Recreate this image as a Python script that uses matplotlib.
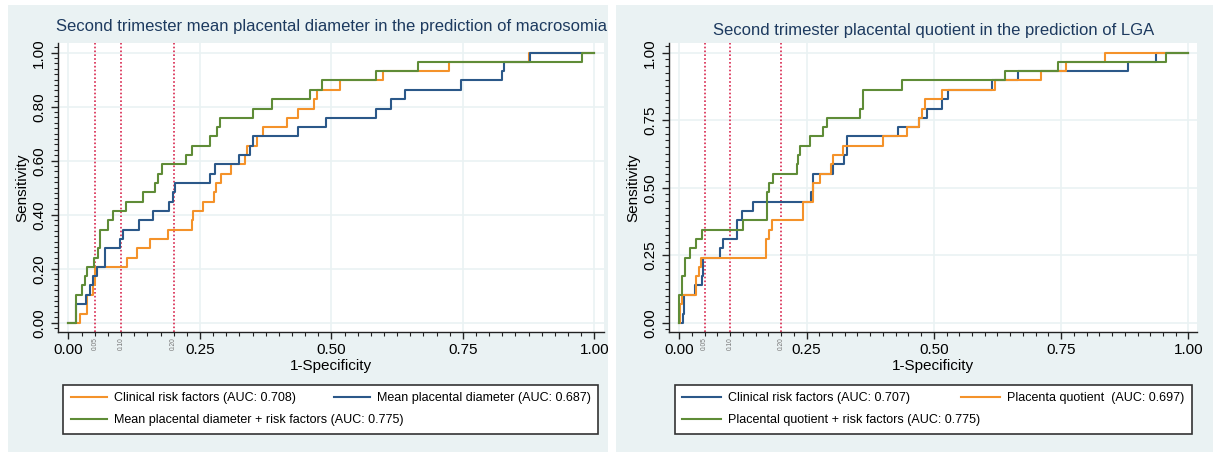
# Curvas ROC del segundo trimestre (diámetro placentario y cociente placentario)

import matplotlib.pyplot as plt
import matplotlib.patches as mpatches
from matplotlib.ticker import MultipleLocator

plt.rcParams['font.family'] = ['Liberation Sans', 'DejaVu Sans']

W, H = 1216, 453

# ---- Panel izquierdo: macrosomía ----
izq_fpr_clinico = [0, 0.021, 0.035, 0.047, 0.050, 0.112, 0.130, 0.155, 0.190, 0.234, 0.237, 0.255,
                   0.277, 0.280, 0.291, 0.310, 0.336, 0.339, 0.358, 0.369, 0.416, 0.437, 0.467,
                   0.472, 0.517, 0.598, 0.724, 0.876, 1.0]
izq_sens_clinico = [0, 0.034, 0.103, 0.138, 0.207, 0.241, 0.276, 0.310, 0.345, 0.379, 0.414, 0.448,
                    0.483, 0.517, 0.552, 0.586, 0.621, 0.655, 0.690, 0.724, 0.759, 0.793, 0.828,
                    0.862, 0.897, 0.931, 0.966, 1.0, 1.0]

izq_fpr_diam = [0, 0.014, 0.033, 0.041, 0.046, 0.054, 0.069, 0.098, 0.104, 0.134, 0.161, 0.191,
                0.198, 0.203, 0.269, 0.278, 0.325, 0.346, 0.351, 0.436, 0.490, 0.584, 0.614,
                0.640, 0.746, 0.824, 0.828, 0.877, 1.0]
izq_sens_diam = [0, 0.069, 0.103, 0.138, 0.172, 0.207, 0.276, 0.310, 0.345, 0.379, 0.414, 0.448,
                 0.483, 0.517, 0.552, 0.586, 0.621, 0.655, 0.690, 0.724, 0.759, 0.793, 0.828,
                 0.862, 0.897, 0.931, 0.966, 1.0, 1.0]

izq_fpr_comb = [0, 0.015, 0.025, 0.031, 0.036, 0.049, 0.057, 0.060, 0.076, 0.085, 0.109, 0.141,
                0.164, 0.171, 0.177, 0.223, 0.234, 0.269, 0.282, 0.288, 0.351, 0.387, 0.459,
                0.483, 0.584, 0.665, 0.976, 1.0]
izq_sens_comb = [0, 0.103, 0.138, 0.172, 0.207, 0.241, 0.276, 0.345, 0.379, 0.414, 0.448, 0.483,
                 0.517, 0.552, 0.586, 0.621, 0.655, 0.690, 0.724, 0.759, 0.793, 0.828, 0.862,
                 0.897, 0.931, 0.966, 1.0, 1.0]

# ---- Panel derecho: LGA ----
der_fpr_clinico = [0, 0.007, 0.009, 0.031, 0.044, 0.047, 0.081, 0.087, 0.114, 0.123, 0.144, 0.259,
                   0.262, 0.303, 0.324, 0.329, 0.430, 0.470, 0.486, 0.517, 0.527, 0.614, 0.666,
                   0.882, 0.936, 1.0]
der_sens_clinico = [0, 0.034, 0.103, 0.138, 0.172, 0.241, 0.276, 0.310, 0.379, 0.414, 0.448, 0.483,
                    0.552, 0.586, 0.621, 0.690, 0.724, 0.759, 0.793, 0.828, 0.862, 0.897, 0.931,
                    0.966, 1.0, 1.0]

der_fpr_cociente = [0, 0.002, 0.005, 0.033, 0.039, 0.043, 0.170, 0.177, 0.183, 0.244, 0.263, 0.276,
                    0.299, 0.303, 0.321, 0.401, 0.448, 0.470, 0.476, 0.483, 0.517, 0.620, 0.710,
                    0.759, 0.836, 1.0]
der_sens_cociente = [0, 0.069, 0.103, 0.172, 0.207, 0.241, 0.310, 0.345, 0.379, 0.448, 0.517, 0.552,
                     0.586, 0.621, 0.655, 0.690, 0.724, 0.759, 0.793, 0.828, 0.862, 0.897, 0.931,
                     0.966, 1.0, 1.0]

der_fpr_comb = [0, 0.0003, 0.005, 0.011, 0.021, 0.033, 0.044, 0.126, 0.173, 0.176, 0.185, 0.231,
                0.234, 0.237, 0.256, 0.282, 0.290, 0.356, 0.360, 0.437, 0.640, 0.744, 0.956, 1.0]
der_sens_comb = [0, 0.103, 0.172, 0.241, 0.276, 0.310, 0.345, 0.379, 0.483, 0.517, 0.552, 0.586,
                 0.621, 0.655, 0.690, 0.724, 0.759, 0.793, 0.862, 0.897, 0.931, 0.966, 1.0, 1.0]

cortes = [0.05, 0.10, 0.20]

NARANJA = '#f4922a'
AZUL = '#2b5889'
VERDE = '#5f8c37'
FONDO = '#eaf2f3'
ROJO = '#d8284f'


def caja(x0, y0, x1, y1):
    # coordenadas en píxeles (origen arriba a la izquierda) -> fracción de figura
    return [x0 / W, 1 - y1 / H, (x1 - x0) / W, (y1 - y0) / H]


fig = plt.figure(figsize=(W / 100, H / 100), dpi=100)
fig.patch.set_facecolor('white')

# fondos de cada panel
for x0, x1 in [(8, 608), (616, 1213)]:
    fig.patches.append(mpatches.Rectangle((x0 / W, 1 - 452 / H), (x1 - x0) / W, (452 - 5) / H,
                                          transform=fig.transFigure, facecolor=FONDO,
                                          edgecolor='none', zorder=-5))


def preparar_ejes(ax, yticks, ymenor, xmax):
    ax.set_zorder(2)
    ax.set_facecolor('white')
    ax.set_xlim(-0.0192, xmax)
    ax.set_ylim(-0.0356, 1.037)
    ax.set_xticks([0, 0.25, 0.5, 0.75, 1.0])
    ax.set_xticklabels(['0.00', '0.25', '0.50', '0.75', '1.00'])
    ax.xaxis.set_minor_locator(MultipleLocator(0.025))
    ax.set_yticks(yticks)
    ax.set_yticklabels(['%.2f' % v for v in yticks])
    ax.yaxis.set_minor_locator(MultipleLocator(ymenor))
    ax.grid(True, which='major', color=FONDO, linewidth=1.2, zorder=0)
    for lado in ['top', 'right']:
        ax.spines[lado].set_visible(False)
    for lado in ['left', 'bottom']:
        ax.spines[lado].set_color('#222222')
        ax.spines[lado].set_linewidth(1.0)
    ax.tick_params(axis='both', which='major', length=5, width=1, color='#222222',
                   labelsize=11, pad=3)
    ax.tick_params(axis='both', which='minor', length=3, width=0.8, color='#222222')
    ax.tick_params(axis='y', labelrotation=90, pad=4)
    plt.setp(ax.get_yticklabels(), va='center')
    ax.set_xlabel('1-Specificity', fontsize=11, labelpad=1)
    ax.set_ylabel('Sensitivity', fontsize=11, labelpad=2)
    for c in cortes:
        ax.axvline(c, color=ROJO, linestyle=(0, (1, 1.3)), linewidth=1.2, zorder=2)
        ax.text(c, -0.055, '%.2f' % c, rotation=90, fontsize=4.8, color='#777777',
                ha='center', va='top', transform=ax.transData)
    ax.set_axisbelow(True)


# ---- Panel izquierdo ----
ax1 = fig.add_axes(caja(58.4, 42.7, 604, 332.3))
preparar_ejes(ax1, [0, 0.2, 0.4, 0.6, 0.8, 1.0], 0.02, 1.0185)
l1, = ax1.plot(izq_fpr_clinico, izq_sens_clinico, drawstyle='steps-post', color=NARANJA, lw=1.5,
               label='Clinical risk factors (AUC: 0.708)', zorder=3)
l2, = ax1.plot(izq_fpr_diam, izq_sens_diam, drawstyle='steps-post', color=AZUL, lw=1.5,
               label='Mean placental diameter (AUC: 0.687)', zorder=3)
l3, = ax1.plot(izq_fpr_comb, izq_sens_comb, drawstyle='steps-post', color=VERDE, lw=1.5,
               label='Mean placental diameter + risk factors (AUC: 0.775)', zorder=3)
fig.text(331 / W, 1 - 27 / H, 'Second trimester mean placental diameter in the prediction of macrosomia',
         ha='center', va='center', fontsize=12, color='#1d3a5f')
ley1 = fig.legend([l1, l3, l2], [l1.get_label(), l3.get_label(), l2.get_label()],
                  bbox_to_anchor=caja(63.4, 383, 598, 435), loc='center', mode='expand', ncol=2,
                  fontsize=9, frameon=True, fancybox=False, edgecolor='#333333', facecolor='white',
                  framealpha=1, handlelength=2.9, handletextpad=0.55, labelspacing=0.8,
                  borderpad=0.6, borderaxespad=0)
ley1.get_frame().set_linewidth(1.2)

# ---- Panel derecho ----
ax2 = fig.add_axes(caja(669.4, 42.7, 1197.4, 332.3))
preparar_ejes(ax2, [0, 0.25, 0.5, 0.75, 1.0], 0.025, 1.0175)
r1, = ax2.plot(der_fpr_clinico, der_sens_clinico, drawstyle='steps-post', color=AZUL, lw=1.5,
               label='Clinical risk factors (AUC: 0.707)', zorder=3)
r2, = ax2.plot(der_fpr_cociente, der_sens_cociente, drawstyle='steps-post', color=NARANJA, lw=1.5,
               label='Placenta quotient  (AUC: 0.697)', zorder=3)
r3, = ax2.plot(der_fpr_comb, der_sens_comb, drawstyle='steps-post', color=VERDE, lw=1.5,
               label='Placental quotient + risk factors (AUC: 0.775)', zorder=3)
fig.text(933.4 / W, 1 - 30 / H, 'Second trimester placental quotient in the prediction of LGA',
         ha='center', va='center', fontsize=12, color='#1d3a5f')
ley2 = fig.legend([r1, r3, r2], [r1.get_label(), r3.get_label(), r2.get_label()],
                  bbox_to_anchor=caja(674.5, 383, 1191.6, 435), loc='center', mode='expand', ncol=2,
                  fontsize=9, frameon=True, fancybox=False, edgecolor='#333333', facecolor='white',
                  framealpha=1, handlelength=3.1, handletextpad=0.55, labelspacing=0.8,
                  borderpad=0.6, borderaxespad=0)
ley2.get_frame().set_linewidth(1.2)

fig.savefig('out.png', dpi=100, facecolor='white')
